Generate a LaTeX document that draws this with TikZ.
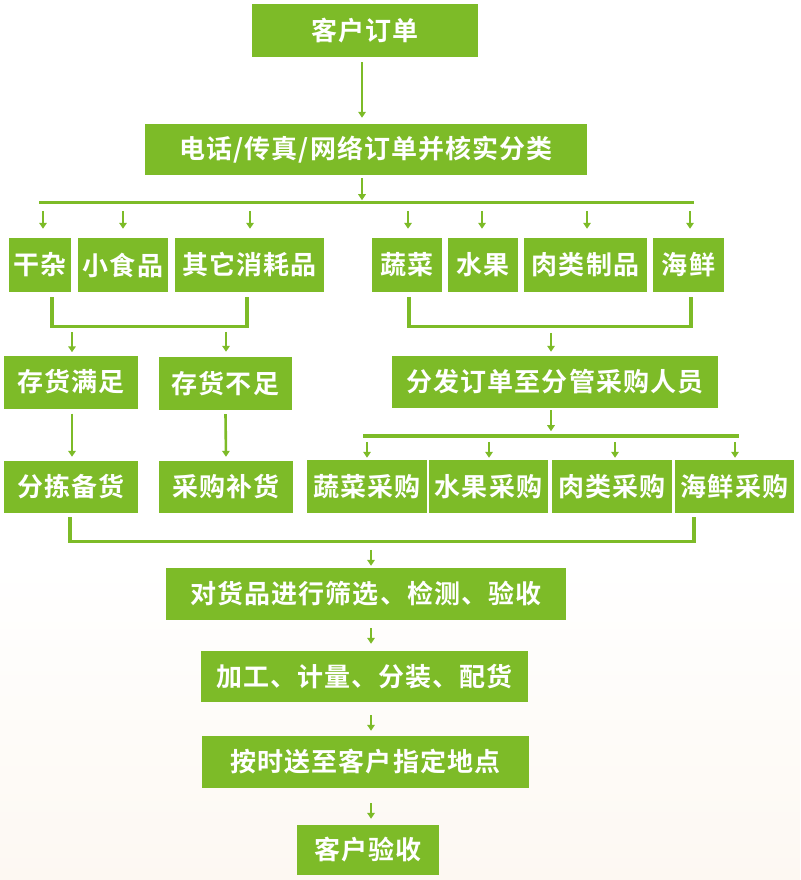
\documentclass[tikz,border=0pt]{standalone}
\usepackage{fontspec}
\newfontfamily\cjk{Noto Sans CJK SC}[BoldFont={* Bold},LetterSpace=4]
\usetikzlibrary{arrows.meta,calc}
\definecolor{gr}{RGB}{125,187,40}
\definecolor{cream}{RGB}{253,248,242}
\tikzset{
  box/.style={fill=gr,text=white,inner sep=0pt,minimum height=53pt,
    font=\cjk\bfseries\fontsize{26}{26}\selectfont},
  arr/.style={draw=gr,line width=2.6pt,-{Triangle[length=6pt,width=7.5pt]}},
  ln/.style={draw=gr,line width=3.4pt,line cap=rect},
}
\begin{document}
\begin{tikzpicture}[x=1pt,y=-1pt]
\useasboundingbox (0,0) rectangle (800,880);
\shade[top color=white,bottom color=cream] (0,560) rectangle (800,880);
% nodes
\node[box,minimum width=226pt] (top) at (365,30.5) {客户订单};
\node[box,minimum width=442pt,minimum height=51pt] (tel) at (366,149.5) {电话/传真/网络订单并核实分类};
\node[box,minimum width=62pt,minimum height=54pt] (gz) at (40,265) {干杂};
\node[box,minimum width=90pt,minimum height=54pt] (xsp) at (123,265) {小食品};
\node[box,minimum width=149pt,minimum height=54pt] (qt) at (249.5,265) {其它消耗品};
\node[box,minimum width=70pt,minimum height=54pt] (sc) at (407,265) {蔬菜};
\node[box,minimum width=70pt,minimum height=54pt] (sg) at (483,265) {水果};
\node[box,minimum width=123pt,minimum height=54pt] (rl) at (585.5,265) {肉类制品};
\node[box,minimum width=71pt,minimum height=54pt] (hx) at (688.5,265) {海鲜};
\node[box,minimum width=134pt] (chm) at (71,382) {存货满足};
\node[box,minimum width=133pt] (cbz) at (225.5,383.5) {存货不足};
\node[box,minimum width=326pt,minimum height=52pt] (ff) at (555,382) {分发订单至分管采购人员};
\node[box,minimum width=134pt,minimum height=52pt] (fj) at (71,487) {分拣备货};
\node[box,minimum width=134pt,minimum height=52pt] (cg) at (226,487) {采购补货};
\node[box,minimum width=120pt] (sccg) at (367,486.5) {蔬菜采购};
\node[box,minimum width=119pt] (sgcg) at (488.5,486.5) {水果采购};
\node[box,minimum width=120pt] (rlcg) at (612,486.5) {肉类采购};
\node[box,minimum width=119pt] (hxcg) at (734.5,486.5) {海鲜采购};
\node[box,minimum width=400pt,minimum height=52pt] (dh) at (366,594) {对货品进行筛选、检测、验收};
\node[box,minimum width=327pt,minimum height=51pt] (jg) at (364.5,676.5) {加工、计量、分装、配货};
\node[box,minimum width=327pt,minimum height=52pt] (as) at (365.5,762) {按时送至客户指定地点};
\node[box,minimum width=142pt,minimum height=50pt] (kh) at (368,850) {客户验收};
% top chain
\draw[arr] ([xshift=-3pt,yshift=-5pt]top.south) -- ([xshift=-4pt,yshift=6pt]tel.north);
\draw[arr] ([xshift=-4pt,yshift=-3pt]tel.south) -- ([xshift=-4pt,yshift=-25pt]tel.south);
\coordinate (b1l) at ($(gz.north)+(1,-35.5)$);
\coordinate (b1r) at ($(hx.north)+(3.5,-35.5)$);
\draw[ln] (b1l) -- (b1r);
\foreach \n/\dx in {gz/3,xsp/0,qt/0.5,sc/1,sg/-1,rl/1.5,hx/1.5}{
  \draw[arr] ([xshift=\dx pt,yshift=27pt]\n.north) -- ([xshift=\dx pt,yshift=9pt]\n.north);
}
% left bracket
\draw[ln,line cap=butt] ([xshift=12pt,yshift=-5pt]gz.south) -- ++(0,29) -| ([xshift=-2.5pt,yshift=-5pt]qt.south);
\draw[arr] ([xshift=1pt,yshift=23pt]chm.north) -- ([xshift=1pt,yshift=3pt]chm.north);
\draw[arr] ([xshift=0.5pt,yshift=25pt]cbz.north) -- ([xshift=0.5pt,yshift=5pt]cbz.north);
% right bracket
\draw[ln,line cap=butt] ([xshift=2pt,yshift=-5pt]sc.south) -- ++(0,29) -| ([xshift=2.5pt,yshift=-5pt]hx.south);
\draw[arr] ([xshift=-4pt,yshift=23pt]ff.north) -- ([xshift=-4pt,yshift=4pt]ff.north);
% purchase bus
\draw[arr] ([xshift=-4pt,yshift=-2pt]ff.south) -- ([xshift=-4pt,yshift=-23pt]ff.south);
\coordinate (b2l) at ($(sccg.north)+(-2,-24)$);
\coordinate (b2r) at ($(hxcg.north)+(2.5,-24)$);
\draw[ln] (b2l) -- (b2r);
\foreach \n/\dx in {sccg/0,sgcg/0.5,rlcg/3,hxcg/0.5}{
  \draw[arr] ([xshift=\dx pt,yshift=18pt]\n.north) -- ([xshift=\dx pt,yshift=2pt]\n.north);
}
% stock
\draw[arr] ([xshift=1pt,yshift=-5pt]chm.south) -- ([xshift=1pt,yshift=4pt]fj.north);
\draw[arr] ([yshift=-4pt]cbz.south) -- ([yshift=4pt]cg.north);
% merge
\draw[ln,line cap=butt] ([xshift=-1pt,yshift=-4pt]fj.south) -- ++(0,24) -| ([xshift=-40.5pt,yshift=-4pt]hxcg.south);
\draw[arr] ([xshift=5pt,yshift=18pt]dh.north) -- ([xshift=5pt,yshift=2pt]dh.north);
\draw[arr] ([xshift=5pt,yshift=-8pt]dh.south) -- ([xshift=6.5pt,yshift=7pt]jg.north);
\draw[arr] ([xshift=6.5pt,yshift=-13pt]jg.south) -- ([xshift=5.5pt,yshift=5pt]as.north);
\draw[arr] ([xshift=5.5pt,yshift=-15pt]as.south) -- ([xshift=3pt,yshift=6pt]kh.north);
\end{tikzpicture}
\end{document}
